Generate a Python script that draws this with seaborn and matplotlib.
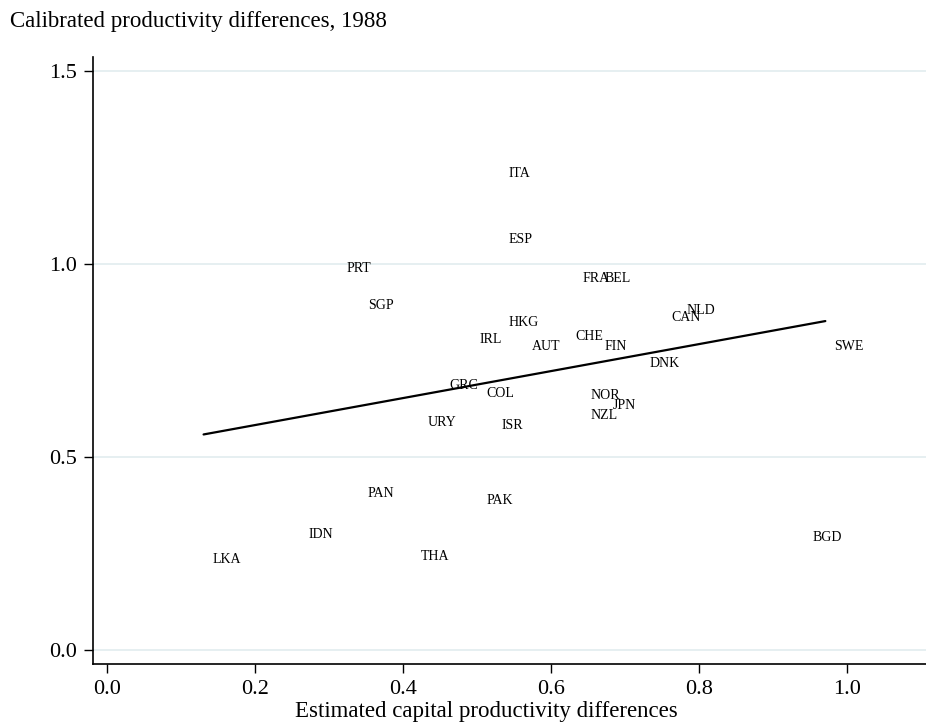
import matplotlib
matplotlib.use("Agg")
import matplotlib.pyplot as plt
import seaborn as sns
import pandas as pd

# ---- data ----
countries = ["ITA", "ESP", "PRT", "SGP", "FRA", "BEL", "HKG", "IRL", "AUT", "CHE",
             "FIN", "CAN", "NLD", "DNK", "SWE", "GRC", "COL", "NOR", "JPN", "NZL",
             "URY", "ISR", "PAN", "PAK", "IDN", "THA", "LKA", "BGD"]
capital_prod = [0.531, 0.531, 0.312, 0.341, 0.631, 0.660, 0.531, 0.491, 0.562, 0.621,
                0.660, 0.751, 0.771, 0.721, 0.971, 0.451, 0.501, 0.641, 0.671, 0.641,
                0.421, 0.521, 0.340, 0.501, 0.260, 0.412, 0.131, 0.941]
calibrated_prod = [1.238, 1.067, 0.992, 0.896, 0.964, 0.966, 0.850, 0.808, 0.790, 0.816,
                   0.790, 0.865, 0.883, 0.746, 0.788, 0.687, 0.666, 0.663, 0.637, 0.609,
                   0.591, 0.585, 0.409, 0.391, 0.301, 0.246, 0.238, 0.293]
x_ticks = [0.0, 0.2, 0.4, 0.6, 0.8, 1.0]
y_ticks = [0.0, 0.5, 1.0, 1.5]
title = "Calibrated productivity differences, 1988"
xlabel = "Estimated capital productivity differences"

df = pd.DataFrame({"country": countries, "x": capital_prod, "y": calibrated_prod})

sns.set_theme(style="white")
plt.rcParams["font.family"] = ["Liberation Serif", "DejaVu Serif"]

W, H = 926, 724
fig = plt.figure(figsize=(W / 100, H / 100), dpi=100)
ax = fig.add_axes([92.7 / W, 1 - 664 / H, 1 - 92.7 / W, (664 - 57) / H])

# fitted line
sns.regplot(data=df, x="x", y="y", scatter=False, ci=None, truncate=True,
            color="black", line_kws={"linewidth": 1.6}, ax=ax)

# country labels (no markers, label to the right of the point)
for c, xv, yv in zip(df["country"], df["x"], df["y"]):
    ax.annotate(c, (xv, yv), xytext=(6.6, -3.3), textcoords="offset points",
                ha="left", va="baseline", fontsize=10, color="black")

ax.set_xlim(-0.0188, 1.107)
ax.set_ylim(-0.0363, 1.536)
ax.set_xticks(x_ticks)
ax.set_yticks(y_ticks)
ax.set_xticklabels([f"{v:.1f}" for v in x_ticks])
ax.set_yticklabels([f"{v:.1f}" for v in y_ticks])
ax.tick_params(axis="both", which="major", direction="out", length=6.5, width=1.0,
               color="black", labelsize=16, labelcolor="black", pad=5,
               bottom=True, left=True)
ax.set_xlabel("")
ax.set_ylabel("")

for yv in y_ticks:
    ax.axhline(yv, color="#e6eff1", linewidth=1.4, zorder=0)

for side in ["top", "right"]:
    ax.spines[side].set_visible(False)
for side in ["left", "bottom"]:
    ax.spines[side].set_color("black")
    ax.spines[side].set_linewidth(1.2)

fig.text(10 / W, 1 - 22 / H, title, ha="left", va="center", fontsize=16.5, color="black")
fig.text(486 / W, 1 - 712 / H, xlabel, ha="center", va="center", fontsize=16.5, color="black")

fig.savefig("out.png", dpi=100, facecolor="white")
